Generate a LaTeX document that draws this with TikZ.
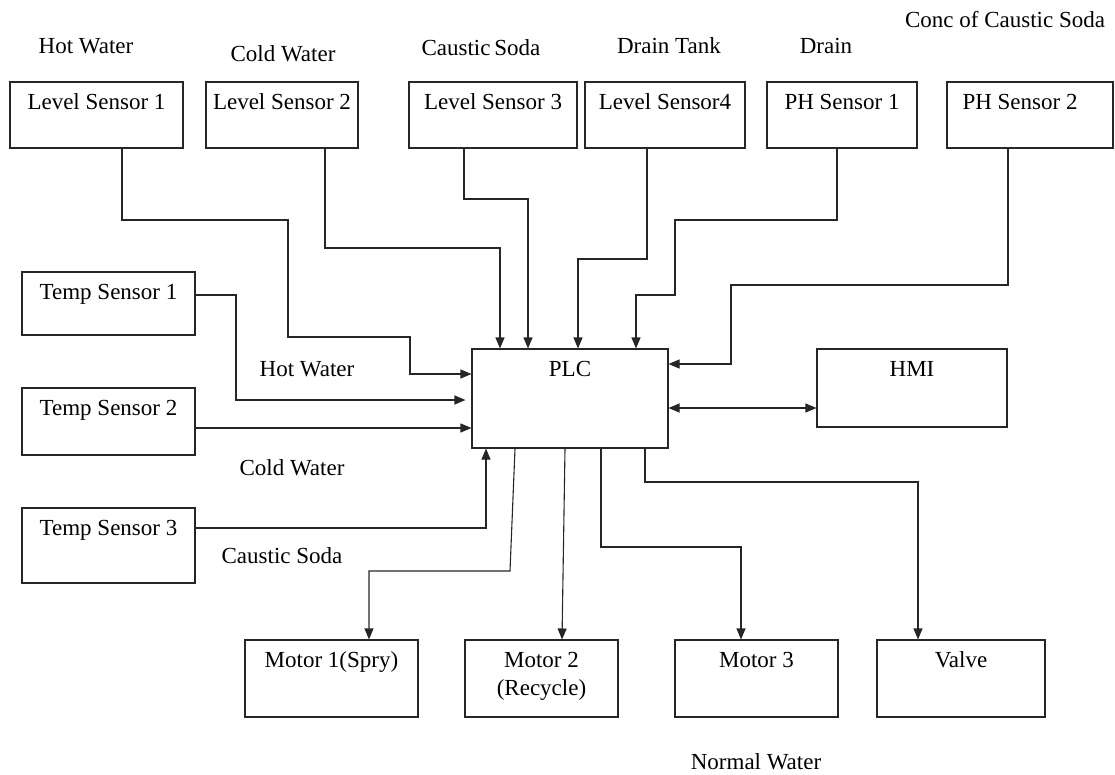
\documentclass[tikz,border=0pt]{standalone}
\usepackage{fontspec}
\setmainfont{Liberation Serif}
\usetikzlibrary{arrows.meta}

\begin{document}
\begin{tikzpicture}[x=1pt,y=-1pt,
  every node/.style={font=\fontsize{23}{26}\selectfont},
  box/.style={draw=black!85, line width=1.1pt, inner sep=0pt},
  tag/.style={anchor=base, yshift=-28pt, inner sep=0pt},
  note/.style={inner sep=0pt},
  wire/.style={draw=black!85, line width=1.1pt, -{Triangle[length=11pt,width=9pt]}},
  dwire/.style={draw=black!85, line width=1.1pt, {Triangle[length=11pt,width=9pt]}-{Triangle[length=11pt,width=9pt]}}]
\useasboundingbox (0,0) rectangle (1115,774);
\node[box, minimum width=173pt, minimum height=66pt, label={[tag]north:Level Sensor 1}] (ls1) at (96.5,115) {};
\node[box, minimum width=152pt, minimum height=66pt, label={[tag]north:Level Sensor 2}] (ls2) at (282,115) {};
\node[box, minimum width=168pt, minimum height=66pt, label={[tag]north:Level Sensor 3}] (ls3) at (493,115) {};
\node[box, minimum width=160pt, minimum height=66pt, label={[tag]north:Level Sensor4}] (ls4) at (665,115) {};
\node[box, minimum width=150pt, minimum height=66pt, label={[tag]north:PH Sensor 1}] (ph1) at (842,115) {};
\node[box, minimum width=166pt, minimum height=66pt, label={[tag, xshift=-10pt]north:PH Sensor 2}] (ph2) at (1030,115) {};
\node[box, minimum width=173pt, minimum height=63pt, label={[tag]north:Temp Sensor 1}] (ts1) at (108.5,303.5) {};
\node[box, minimum width=173pt, minimum height=67pt, label={[tag]north:Temp Sensor 2}] (ts2) at (108.5,421.5) {};
\node[box, minimum width=173pt, minimum height=75pt, label={[tag]north:Temp Sensor 3}] (ts3) at (108.5,545.5) {};
\node[box, minimum width=196pt, minimum height=99pt, label={[tag]north:PLC}] (plc) at (570,398.5) {};
\node[box, minimum width=190pt, minimum height=78pt, label={[tag]north:HMI}] (hmi) at (912,388) {};
\node[box, minimum width=173pt, minimum height=77pt, label={[tag]north:Motor 1(Spry)}] (m1) at (331.5,678.5) {};
\node[box, minimum width=153pt, minimum height=77pt, label={[tag, yshift=-28pt, align=center]north:Motor 2\\[2pt](Recycle)}] (m2) at (541.5,678.5) {};
\node[box, minimum width=163pt, minimum height=77pt, label={[tag]north:Motor 3}] (m3) at (756.5,678.5) {};
\node[box, minimum width=168pt, minimum height=77pt, label={[tag]north:Valve}] (valve) at (961,678.5) {};

\node[note] (hotw) at (86,46) {Hot Water};
\node[note] (coldw) at (283,54) {Cold Water};
\node[note] (caus) at (481,48) {Caustic\,Soda};
\node[note] (drtank) at (669,46) {Drain Tank};
\node[note] (drain) at (826,46) {Drain};
\node[note] (conc) at (1005,20) {Conc of Caustic Soda};
\node[note] (hotw2) at (307,369) {Hot Water};
\node[note] (coldw2) at (292,468) {Cold Water};
\node[note] (caus2) at (282,556) {Caustic Soda};
\node[note] (normw) at (756,762) {Normal Water};

\draw[wire] ([xshift=25.5pt]ls1.south) |- (288,220) |- (410,337) |- (plc.west |- 0,374);
\draw[wire] ([xshift=43pt]ls2.south) |- (500,248) -- (plc.north -| 500,0);
\draw[wire] ([xshift=-29pt]ls3.south) |- (528,199) -- (plc.north -| 528,0);
\draw[wire] ([xshift=-18pt]ls4.south) |- (578,259) -- (plc.north -| 578,0);
\draw[wire] ([xshift=-5pt]ph1.south) |- (675,220) |- (636,295) -- (plc.north -| 636,0);
\draw[wire] ([xshift=-22pt]ph2.south) |- (731,285) |- (plc.east |- 0,364);
\draw[dwire] (plc.east |- 0,408) -- (hmi.west |- 0,408);
\draw[wire, shorten >=6pt] (ts1.east |- 0,295) -| (236,400) -- (plc.west |- 0,400);
\draw[wire] (ts2.east |- 0,428) -- (plc.west |- 0,428);
\draw[wire] (ts3.east |- 0,528) -| (plc.south -| 486,0);
\draw[wire] (plc.south -| 515,0) -- (510,571) -| (m1.north -| 369,0);
\draw[wire] (plc.south -| 565,0) -- (m2.north -| 562,0);
\draw[wire] (plc.south -| 601,0) |- (741,547) -- (m3.north -| 741,0);
\draw[wire] (plc.south -| 645,0) |- (918,482) -- (valve.north -| 918,0);
\end{tikzpicture}
\end{document}
